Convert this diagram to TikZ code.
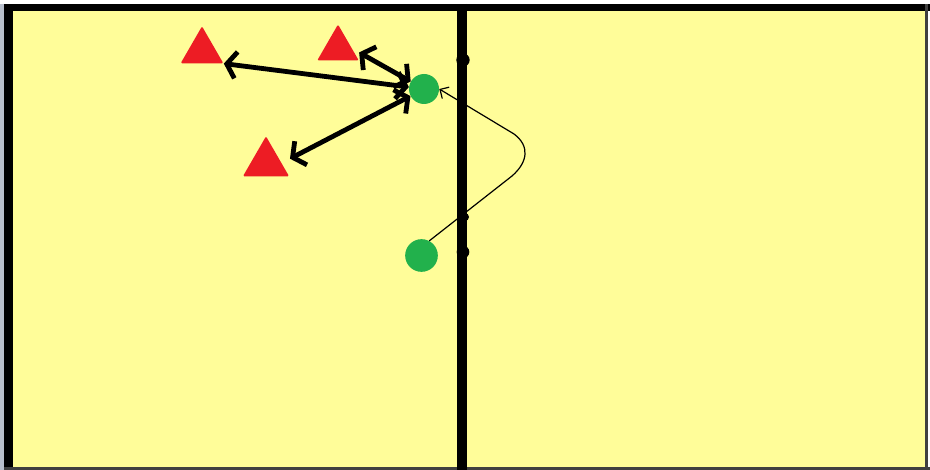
\documentclass[tikz,border=0pt]{standalone}
\usetikzlibrary{arrows.meta,shapes.geometric}
\definecolor{court}{HTML}{FFFD99}
\definecolor{conered}{HTML}{ED1C24}
\definecolor{playergreen}{HTML}{22B14C}
\definecolor{edgegray}{HTML}{B8BFCC}
\begin{document}
\begin{tikzpicture}[x=0.75pt,y=-0.75pt,
  conenode/.style={regular polygon, regular polygon sides=3, fill=conered, draw=none, inner sep=0pt, minimum size=#1, rounded corners=1pt},
  playernode/.style={circle, fill=playergreen, draw=none, inner sep=0pt, minimum size=#1},
  netdot/.style={circle, fill=black, draw=none, inner sep=0pt, minimum size=#1},
  pass/.style={line width=3.6pt, line cap=round, {Straight Barb[length=7pt,width=20pt]}-{Straight Barb[length=7pt,width=20pt]}},
  run/.style={line width=0.9pt, -{Straight Barb[length=5pt,width=10pt,line width=0.9pt]}}
]
% background and frame
\fill[white] (0,0) rectangle (930,470);
\useasboundingbox (0,0) rectangle (930,470);
\fill[edgegray] (0,4) rectangle (3.5,470);
\fill[court] (8,8) rectangle (926,468);
\fill[black] (4,4) rectangle (13,470);
\fill[black] (4,4) rectangle (930,11);
\fill[black!75] (924.5,4) rectangle (928,470);
\fill[black!75] (4,466.5) rectangle (930,469.5);
% net
\draw[line width=7.5pt] (462,4) -- (462,470);
\node[netdot=10pt] (d1) at (463,60) {};
\node[netdot=9.5pt] (d2) at (463,252) {};
\node[netdot=6pt] (d3) at (465,217) {};
\node[netdot=6pt] (d4) at (462,367) {};
% cones
\node[conenode=37pt] (t1) at (202,51) {};
\node[conenode=36pt] (t2) at (338,48.5) {};
\node[conenode=40pt] (t3) at (266,163) {};
% players
\node[playernode=22.5pt] (g1) at (424,89) {};
\node[playernode=24.5pt] (g2) at (421.5,255.5) {};
% passes
\draw[pass] (t1.corner 3) -- (g1);
\draw[pass, shorten <=6pt] (t2.east) -- (g1);
\draw[pass, shorten <=7pt] (t3.east) -- (g1);
% run
\draw[run] (g2.62) -- (512,176) .. controls (528,162) and (530,146) .. (514,134) -- (g1.east);
\end{tikzpicture}
\end{document}
